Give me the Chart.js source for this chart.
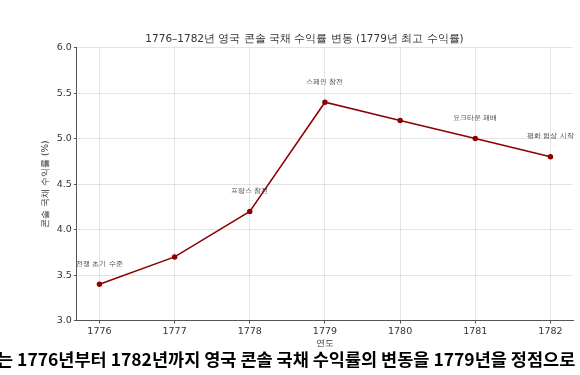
<!DOCTYPE html>
<html>
<head>
<meta charset="utf-8">
<script src="https://cdn.jsdelivr.net/npm/chart.js@4/dist/chart.umd.min.js"></script>
<style>
  body { margin: 0; background: #fff; width: 580px; height: 375px; overflow: hidden; position: relative; }
  #wrap { position: absolute; left: 0; top: 0; width: 580px; height: 348px; }
  #caption {
    position: absolute; left: -3px; top: 346px; white-space: nowrap;
    font-family: "Noto Sans CJK KR", "Noto Sans", sans-serif; font-weight: bold;
    font-size: 17.5px; color: #000;
  }
</style>
</head>
<body>
<div id="wrap"><canvas id="myChart"></canvas></div>
<div id="caption">는 1776년부터 1782년까지 영국 콘솔 국채 수익률의 변동을 1779년을 정점으로 보여줍니다.</div>
<script>
// Daten
const years = [1776, 1777, 1778, 1779, 1780, 1781, 1782];
const yields = [3.4, 3.7, 4.2, 5.4, 5.2, 5.0, 4.8];
const notes = ['전쟁 초기 수준', '', '프랑스 참전', '스페인 참전', '', '요크타운 패배', '평화 협상 시작'];
const yTicks = [3.0, 3.5, 4.0, 4.5, 5.0, 5.5, 6.0];

const font = "'DejaVu Sans', sans-serif";

// Beschriftungen über den Punkten
const notePlugin = {
  id: 'notes',
  afterDatasetsDraw(chart) {
    const ctx = chart.ctx;
    const xs = chart.scales.x, ys = chart.scales.y;
    ctx.save();
    ctx.font = "6.5px " + font;
    ctx.fillStyle = '#444';
    ctx.textAlign = 'center';
    ctx.textBaseline = 'middle';
    for (let i = 0; i < years.length; i++) {
      if (!notes[i]) continue;
      ctx.fillText(notes[i], xs.getPixelForValue(years[i]), ys.getPixelForValue(yields[i]) - 20);
    }
    ctx.restore();
  }
};

const data = {
  datasets: [{
    data: years.map((y, i) => ({ x: y, y: yields[i] })),
    borderColor: '#8b0000',
    backgroundColor: '#8b0000',
    borderWidth: 1.5,
    pointRadius: 2,
    pointHoverRadius: 2,
    tension: 0
  }]
};

const config = {
  type: 'line',
  data: data,
  options: {
    responsive: true,
    maintainAspectRatio: false,
    animation: false,
    layout: { padding: { left: 36, right: 7, top: 0, bottom: 0 } },
    plugins: {
      legend: { display: false },
      tooltip: { enabled: false },
      title: {
        display: true,
        text: '1776–1782년 영국 콘솔 국채 수익률 변동 (1779년 최고 수익률)',
        color: '#333',
        font: { family: font, size: 10.5, weight: 'normal' },
        padding: { top: 33, bottom: 2 }
      }
    },
    scales: {
      x: {
        type: 'linear',
        min: 1775.7,
        max: 1782.3,
        afterBuildTicks(scale) { scale.ticks = years.map(v => ({ value: v })); },
        ticks: {
          color: '#333',
          font: { family: font, size: 9.5 },
          padding: 2,
          callback: v => String(v)
        },
        grid: { color: 'rgba(0,0,0,0.1)', tickColor: '#555', tickLength: 3 },
        border: { color: '#555', width: 1 },
        title: { display: true, text: '연도', color: '#333', font: { family: font, size: 9, lineHeight: 1 }, padding: { top: 0, bottom: 0 } }
      },
      y: {
        min: 3.0,
        max: 6.0,
        afterBuildTicks(scale) { scale.ticks = yTicks.map(v => ({ value: v })); },
        ticks: {
          color: '#333',
          font: { family: font, size: 9.5 },
          padding: 2,
          callback: v => v.toFixed(1)
        },
        grid: { color: 'rgba(0,0,0,0.1)', tickColor: '#555', tickLength: 3 },
        border: { color: '#555', width: 1 },
        title: { display: true, text: '콘솔 국채 수익률 (%)', color: '#333', font: { family: font, size: 9 }, padding: 4 }
      }
    }
  },
  plugins: [notePlugin]
};

const canvas = document.getElementById('myChart');
if (canvas) {
  const myChart = new Chart(canvas, config);
} else {
  console.error('Canvas element not found');
}
</script>
</body>
</html>
